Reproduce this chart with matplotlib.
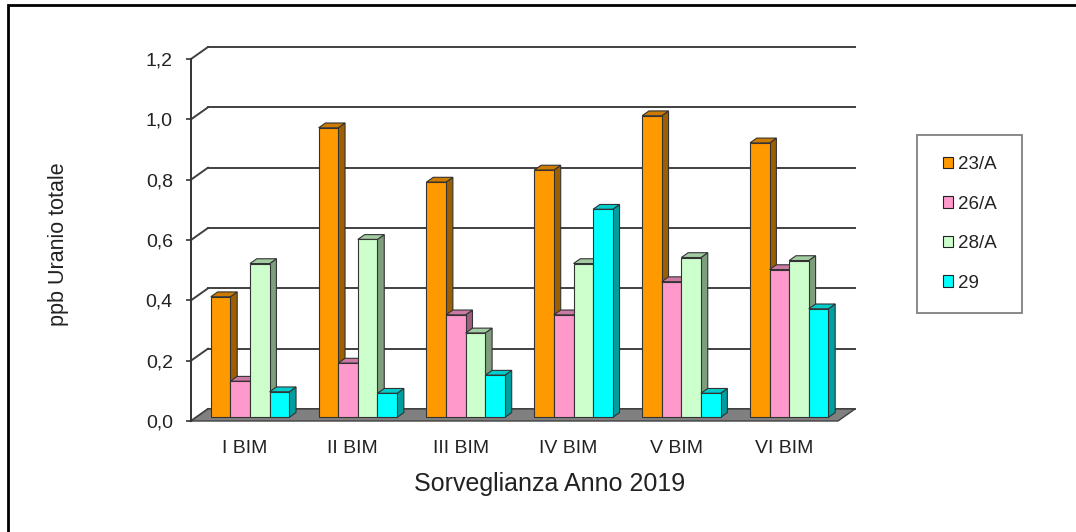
import matplotlib
matplotlib.use("Agg")
import matplotlib.pyplot as plt
from matplotlib.patches import Polygon, Rectangle, Patch
import numpy as np

plt.rcParams['font.family'] = ['Liberation Sans', 'DejaVu Sans']

categories = ["I BIM", "II BIM", "III BIM", "IV BIM", "V BIM", "VI BIM"]
series_names = ["23/A", "26/A", "28/A", "29"]
val_23a = [0.40, 0.96, 0.78, 0.82, 1.00, 0.91]
val_26a = [0.12, 0.18, 0.34, 0.34, 0.45, 0.49]
val_28a = [0.51, 0.59, 0.28, 0.51, 0.53, 0.52]
val_29 = [0.085, 0.08, 0.14, 0.69, 0.08, 0.36]
y_ticks = [0.0, 0.2, 0.4, 0.6, 0.8, 1.0, 1.2]
y_tick_labels = ["0,0", "0,2", "0,4", "0,6", "0,8", "1,0", "1,2"]

series = [val_23a, val_26a, val_28a, val_29]
colors = ["#FF9900", "#FF99CC", "#CCFFCC", "#00FFFF"]

W, H = 1076, 532
fig = plt.figure(figsize=(W / 100, H / 100), dpi=100)
ax = fig.add_axes([191 / W, 111 / H, 647 / W, 362 / H])
ax.set_xlim(0, len(categories))
ax.set_ylim(0, 1.2)
ax.patch.set_visible(False)

# oblique depth offset (data units) for the pseudo-3D look
DX = 17 / (647 / len(categories))
DY = 12 / (362 / 1.2)


def P(x, v, d):
    return (x + d * DX, v + d * DY)


def shade(c, k):
    rgb = np.array(matplotlib.colors.to_rgb(c))
    return tuple(rgb * k)


ncat = len(categories)

# floor
floor = Polygon([P(0, 0, 0), P(ncat, 0, 0), P(ncat, 0, 1), P(0, 0, 1)],
                closed=True, facecolor="#808080", edgecolor="#404040",
                lw=1.0, clip_on=False, zorder=1)
ax.add_patch(floor)

# back wall and side wall gridlines
for v in y_ticks:
    ax.plot(*zip(P(0, v, 1), P(ncat, v, 1)), color="#404040", lw=1.4,
            clip_on=False, zorder=0.5)
    ax.plot(*zip(P(0, v, 0), P(0, v, 1)), color="#404040", lw=1.4,
            clip_on=False, zorder=0.5)

# bars
bar_w = 1 / (len(series) + 1.5)
d0, d1 = 0.3, 0.7
for i in range(ncat):
    for j, (vals, c) in enumerate(zip(series, colors)):
        x0 = i + 0.75 * bar_w + j * bar_w
        x1 = x0 + bar_w
        v = vals[i]
        side = [P(x1, 0, d0), P(x1, 0, d1), P(x1, v, d1), P(x1, v, d0)]
        top = [P(x0, v, d0), P(x1, v, d0), P(x1, v, d1), P(x0, v, d1)]
        front = [P(x0, 0, d0), P(x1, 0, d0), P(x1, v, d0), P(x0, v, d0)]
        for pts, fc in ((side, shade(c, 0.62)), (top, shade(c, 0.8)), (front, c)):
            ax.add_patch(Polygon(pts, closed=True, facecolor=fc,
                                 edgecolor="#333333", lw=0.8,
                                 clip_on=False, zorder=3))

# axes
for s in ["top", "right", "bottom"]:
    ax.spines[s].set_visible(False)
ax.spines["left"].set_color("#333333")
ax.spines["left"].set_linewidth(1.4)
ax.set_yticks(y_ticks)
ax.set_yticklabels(y_tick_labels, fontsize=14, color="#222222")
ax.tick_params(axis="y", length=3.6, width=1.2, color="#333333", pad=9.5)
ax.set_xticks(np.arange(ncat) + 0.5)
ax.set_xticklabels(categories, fontsize=14, color="#222222")
ax.tick_params(axis="x", length=0, pad=14)

ax.set_ylabel("ppb Uranio totale", fontsize=15.5, color="#222222")
ax.yaxis.set_label_coords((58 - 191) / 647, (421 - 244) / 362)
ax.yaxis.label.set_va("center")
ax.set_xlabel("Sorveglianza Anno 2019", fontsize=18, color="#222222")
ax.xaxis.set_label_coords((550 - 191) / 647, (421 - 484) / 362)
ax.xaxis.label.set_va("center")

# legend
handles = [Patch(facecolor=c, edgecolor="#222222", lw=0.8) for c in colors]
fig.legend(handles, series_names, loc="center",
           bbox_to_anchor=(970 / W, 1 - 224 / H), frameon=False,
           fontsize=13.5, handlelength=0.55, handleheight=0.55,
           handletextpad=0.25, labelspacing=1.2, borderpad=0,
           labelcolor="#222222")
fig.add_artist(Rectangle((917 / W, 1 - 313 / H), 105 / W, 178 / H,
                         transform=fig.transFigure, facecolor="none",
                         edgecolor="#808080", lw=1.3))

# outer border
fig.add_artist(Rectangle((8 / W, -0.1), 1.2, 0.1 + 527 / H,
                         transform=fig.transFigure, facecolor="none",
                         edgecolor="black", lw=2.0))

fig.savefig("out.png", dpi=100)
